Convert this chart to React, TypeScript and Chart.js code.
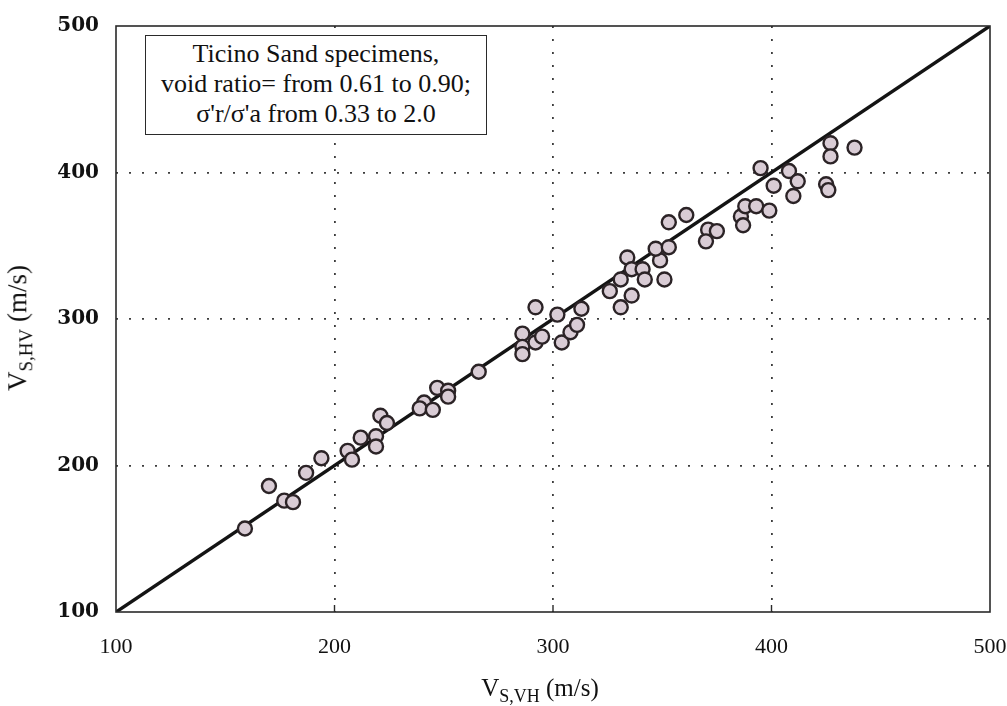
import React, { useEffect, useRef } from "react";
import { Chart, registerables } from "chart.js";

Chart.register(...registerables);

// V_S,VH (x) and V_S,HV (y) in m/s
const vsVH = [
  159, 170, 177, 181, 187, 194, 206, 208, 212, 219, 219, 221, 224, 241, 239, 245,
  247, 252, 252, 266, 286, 286, 286, 292, 295, 292, 302, 304, 308, 311, 313, 331,
  326, 331, 336, 334, 336, 341, 342, 351, 349, 347, 353, 353, 361, 371, 375, 370,
  386, 387, 388, 393, 399, 395, 401, 408, 412, 410, 425, 426, 427, 427, 438,
];
const vsHV = [
  157, 186, 176, 175, 195, 205, 210, 204, 219, 220, 213, 234, 229, 243, 239, 238,
  253, 251, 247, 264, 290, 281, 276, 284, 288, 308, 303, 284, 291, 296, 307, 308,
  319, 327, 316, 342, 334, 334, 327, 327, 340, 348, 349, 366, 371, 361, 360, 353,
  370, 364, 377, 377, 374, 403, 391, 401, 394, 384, 392, 388, 420, 411, 417,
];
const lineX = [100, 500];
const lineY = [100, 500];
const tickValues = [100, 200, 300, 400, 500];
const noteLines = [
  "Ticino Sand specimens,",
  "void ratio= from 0.61 to 0.90;",
  "σ'r/σ'a from 0.33 to 2.0",
];

const W = 1007;
const H = 706;
const AREA = { left: 116, top: 26, right: 990, bottom: 612 };

const framePlugin = {
  id: "frame",
  afterDatasetsDraw(chart: any) {
    const { ctx, chartArea } = chart;
    ctx.save();
    ctx.strokeStyle = "#2a2a2a";
    ctx.lineWidth = 1.6;
    ctx.strokeRect(
      chartArea.left,
      chartArea.top,
      chartArea.right - chartArea.left,
      chartArea.bottom - chartArea.top
    );
    const xs = chart.scales.x;
    ctx.lineWidth = 1.4;
    tickValues.slice(1, -1).forEach((v) => {
      const px = xs.getPixelForValue(v);
      ctx.beginPath();
      ctx.moveTo(px, chartArea.bottom);
      ctx.lineTo(px, chartArea.bottom - 7);
      ctx.stroke();
    });
    ctx.restore();
  },
};

export default function App() {
  const ref = useRef<HTMLCanvasElement>(null);

  useEffect(() => {
    if (!ref.current) return;
    const points = vsVH.map((x, i) => ({ x, y: vsHV[i] }));
    const line = lineX.map((x, i) => ({ x, y: lineY[i] }));
    const gridColor = (ctx: any) => {
      const v = ctx.tick && ctx.tick.value;
      return v === 100 || v === 500 ? "rgba(0,0,0,0)" : "#3c3c3c";
    };
    const chart = new Chart(ref.current, {
      type: "scatter",
      data: {
        datasets: [
          {
            label: "specimens",
            data: points,
            order: 0,
            pointRadius: 7,
            pointHoverRadius: 7,
            pointBackgroundColor: "#d9ccd5",
            pointBorderColor: "#2b2326",
            pointBorderWidth: 2.4,
          },
          {
            label: "1:1",
            data: line,
            order: 1,
            showLine: true,
            borderColor: "#141414",
            borderWidth: 3.5,
            pointRadius: 0,
          },
        ],
      },
      options: {
        animation: false,
        responsive: false,
        maintainAspectRatio: false,
        layout: {
          autoPadding: false,
          padding: { left: 0, top: AREA.top, right: W - AREA.right, bottom: 0 },
        },
        plugins: {
          legend: { display: false },
          tooltip: { enabled: false },
          title: { display: false },
        },
        scales: {
          x: {
            type: "linear",
            min: 100,
            max: 500,
            afterFit: (s: any) => {
              s.height = H - AREA.bottom;
              s.paddingLeft = 0;
              s.paddingRight = 0;
            },
            afterBuildTicks: (s: any) => {
              s.ticks = tickValues.map((v) => ({ value: v }));
            },
            border: { display: false, dash: [2, 11] },
            grid: {
              color: gridColor,
              lineWidth: 1.8,
              drawTicks: false,
            },
            ticks: {
              padding: 22,
              color: "#111",
              font: { family: "'Liberation Serif', serif", size: 22 },
            },
          },
          y: {
            type: "linear",
            min: 100,
            max: 500,
            afterFit: (s: any) => {
              s.width = AREA.left;
              s.paddingTop = 0;
              s.paddingBottom = 0;
            },
            afterBuildTicks: (s: any) => {
              s.ticks = tickValues.map((v) => ({ value: v }));
            },
            border: { display: false, dash: [2, 11] },
            grid: {
              color: gridColor,
              lineWidth: 1.8,
              drawTicks: false,
            },
            ticks: {
              padding: 17,
              color: "#111",
              font: { family: "'DejaVu Serif', serif", size: 20, weight: "bold" },
            },
          },
        },
      },
      plugins: [framePlugin],
    } as any);
    return () => chart.destroy();
  }, []);

  const serif = "'Liberation Serif', 'Times New Roman', serif";

  return (
    <div
      style={{
        position: "fixed",
        left: 0,
        top: 0,
        width: W,
        height: H,
        background: "#fff",
        overflow: "hidden",
      }}
    >
      <canvas ref={ref} width={W} height={H} style={{ display: "block" }} />
      <div
        style={{
          position: "absolute",
          left: 145,
          top: 35,
          width: 342,
          height: 100,
          border: "1.6px solid #2a2a2a",
          background: "#fff",
          boxSizing: "border-box",
          fontFamily: serif,
          fontSize: 26,
          lineHeight: "30px",
          textAlign: "center",
          color: "#111",
          paddingTop: 3,
          whiteSpace: "nowrap",
        }}
      >
        {noteLines.map((t, i) => (
          <div key={i}>{t}</div>
        ))}
      </div>
      <div
        style={{
          position: "absolute",
          left: 0,
          width: 1080,
          top: 674,
          textAlign: "center",
          fontFamily: serif,
          fontSize: 25,
          color: "#111",
          whiteSpace: "nowrap",
        }}
      >
        V<sub style={{ fontSize: 18 }}>S,VH</sub> (m/s)
      </div>
      <div
        style={{
          position: "absolute",
          left: 20,
          top: 328,
          transform: "translate(-50%, -50%) rotate(-90deg)",
          fontFamily: serif,
          fontSize: 27,
          color: "#111",
          whiteSpace: "nowrap",
        }}
      >
        V<sub style={{ fontSize: 19 }}>S,HV</sub> (m/s)
      </div>
    </div>
  );
}
